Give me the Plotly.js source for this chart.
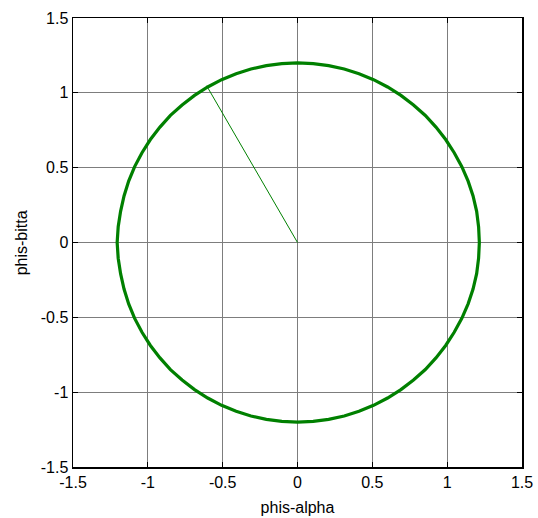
<!DOCTYPE html>
<html>
<head>
<meta charset="utf-8">
<script src="https://cdn.plot.ly/plotly-3.0.1.min.js"></script>
<style>html,body{margin:0;padding:0;background:#fff}#chart{width:538px;height:518px}</style>
</head>
<body>
<div id="chart"></div>
<script>
// radial start segment (from origin to start of orbit)
var startX = [0, -0.607];
var startY = [0, 1.047];
// orbit points, every ~5 degrees round the circle
var orbitX = [1.215, 1.21, 1.197, 1.173, 1.14, 1.098, 1.047, 0.99, 0.925, 0.854, 0.775, 0.691, 0.602, 0.508, 0.411, 0.312, 0.208, 0.105, 0,
  -0.105, -0.208, -0.311, -0.410, -0.507, -0.6, -0.688, -0.771, -0.849, -0.919, -0.983, -1.039, -1.088, -1.128, -1.159, -1.182, -1.198, -1.205,
  -1.198, -1.182, -1.159, -1.128, -1.088, -1.039, -0.983, -0.919, -0.849, -0.771, -0.688, -0.6, -0.507, -0.410, -0.311, -0.208, -0.105, 0,
  0.105, 0.208, 0.312, 0.411, 0.508, 0.602, 0.691, 0.775, 0.854, 0.925, 0.99, 1.047, 1.098, 1.14, 1.173, 1.197, 1.21, 1.215];
var orbitY = [0, 0.105, 0.208, 0.311, 0.410, 0.507, 0.6, 0.688, 0.771, 0.849, 0.919, 0.983, 1.039, 1.088, 1.128, 1.159, 1.182, 1.195, 1.2,
  1.195, 1.182, 1.159, 1.128, 1.088, 1.039, 0.983, 0.919, 0.849, 0.771, 0.688, 0.6, 0.507, 0.410, 0.311, 0.208, 0.105, 0,
  -0.105, -0.208, -0.311, -0.410, -0.507, -0.6, -0.688, -0.771, -0.849, -0.919, -0.983, -1.039, -1.088, -1.128, -1.159, -1.182, -1.195, -1.2,
  -1.195, -1.182, -1.159, -1.128, -1.088, -1.039, -0.983, -0.919, -0.849, -0.771, -0.688, -0.6, -0.507, -0.410, -0.311, -0.208, -0.105, 0];
var xTicks = [-1.5, -1, -0.5, 0, 0.5, 1, 1.5];
var yTicks = [-1.5, -1, -0.5, 0, 0.5, 1, 1.5];
var xTickText = ['-1.5', '-1', '-0.5', '0', '0.5', '1', '1.5'];
var yTickText = ['-1.5', '-1', '-0.5', '0', '0.5', '1', '1.5'];
var xLabel = 'phis-alpha';
var yLabel = 'phis-bitta';

var green = 'rgb(0,128,0)';
var data = [
  {x: orbitX, y: orbitY, mode: 'lines', line: {color: green, width: 3.2}, hoverinfo: 'skip'},
  {x: startX, y: startY, mode: 'lines', line: {color: green, width: 1}, hoverinfo: 'skip'}
];
var fnt = 'Liberation Sans, Arial, sans-serif';
var axisCommon = {
  showgrid: true, gridcolor: 'rgb(125,125,125)', gridwidth: 1,
  zeroline: false, showline: true, linecolor: 'black', linewidth: 1.5, mirror: 'ticks',
  ticks: 'inside', ticklen: 5, tickcolor: 'black', tickwidth: 1,
  tickfont: {family: fnt, size: 16, color: 'black'},
  tickmode: 'array'
};
var layout = {
  width: 538, height: 518,
  margin: {l: 73, r: 16, t: 18, b: 51},
  paper_bgcolor: 'white', plot_bgcolor: 'white',
  showlegend: false,
  xaxis: Object.assign({}, axisCommon, {range: [-1.5, 1.5], tickvals: xTicks, ticktext: xTickText,
    title: {text: xLabel, font: {family: fnt, size: 16, color: 'black'}, standoff: 12}}),
  yaxis: Object.assign({}, axisCommon, {range: [-1.5, 1.5], tickvals: yTicks, ticktext: yTickText}),
  annotations: [{text: yLabel, xref: 'paper', yref: 'paper', x: -0.114, y: 0.5,
    xanchor: 'center', yanchor: 'middle', textangle: -90, showarrow: false,
    font: {family: fnt, size: 16, color: 'black'}}]
};
Plotly.newPlot('chart', data, layout, {staticPlot: true});
</script>
</body>
</html>
